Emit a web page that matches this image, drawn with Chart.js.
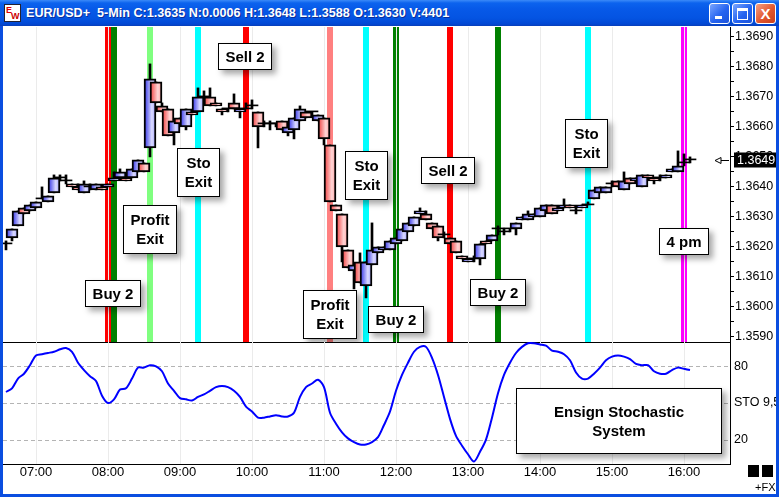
<!DOCTYPE html>
<html>
<head>
<meta charset="utf-8">
<title>EUR/USD+ 5-Min</title>
<script src="https://cdn.jsdelivr.net/npm/chart.js@4.4.1/dist/chart.umd.min.js"></script>
<style>
  html, body { margin: 0; padding: 0; background: #fff; overflow: hidden; }
  #win { position: absolute; left: 0; top: 0; width: 779px; height: 497px; background: #0a4ee0; overflow: hidden; }
  #titlebar { position: absolute; left: 0; top: 0; width: 779px; height: 26px;
    background: linear-gradient(#3b8af8 0px, #0c63ee 3px, #0759e8 9px, #0454e2 18px, #0248d4 24px, #0a3fb8 26px); }
  #caption { position: absolute; left: 26px; top: 6px; color: #fff; white-space: nowrap;
    font: bold 12.6px Arial, "Liberation Sans", sans-serif; text-shadow: 1px 1px 0 #0a2e9a; }
  #icon { position: absolute; left: 4px; top: 4px; width: 15px; height: 16px; background: #fff; border: 1px solid #223;
    font: bold 9px Arial, sans-serif; color: #d00; }
  #icon span { position: absolute; }
  .btn { position: absolute; top: 3px; width: 19px; height: 19px; border: 1px solid #fff; border-radius: 3px;
    background: linear-gradient(135deg, #7aa6ff, #2563f0 55%, #1b52da); }
  .btn.close { background: linear-gradient(135deg, #f4a184, #e2562e 55%, #c8401c); }
  #client { position: absolute; left: 3px; top: 26px; width: 773px; height: 468px; background: #fff; }
  canvas { position: absolute; left: 3px; }
  #priceChart { top: 26px; }
  #stoChart { top: 342px; }
  .sq { position: absolute; top: 465px; width: 11px; height: 12px; background: #000; }
  #fx { position: absolute; left: 755px; top: 481px; font: 11px Arial, "Liberation Sans", sans-serif; color: #000; }
</style>
</head>
<body>
<div id="win">
  <div id="titlebar">
    <div id="icon"><span style="left:1px;top:0px">E</span><span style="left:6px;top:6px;color:#c00">W</span></div>
    <div id="caption">EUR/USD+&nbsp; 5-Min C:1.3635 N:0.0006 H:1.3648 L:1.3588 O:1.3630 V:4401</div>
    <div class="btn" style="left:709px"><div style="position:absolute;left:5px;top:12px;width:7px;height:3px;background:#fff"></div></div>
    <div class="btn" style="left:732px"><div style="position:absolute;left:4px;top:4px;width:9px;height:8px;border:1px solid #fff;border-top-width:3px"></div></div>
    <div class="btn close" style="left:755px"><div style="position:absolute;left:0;top:0;width:19px;height:19px;color:#fff;font:bold 15px Arial,sans-serif;text-align:center;line-height:19px">X</div></div>
  </div>
  <div id="client"></div>
  <canvas id="priceChart" width="773" height="317"></canvas>
  <canvas id="stoChart" width="773" height="152"></canvas>
  <div class="sq" style="left:748px"></div>
  <div class="sq" style="left:762px"></div>
  <div id="fx">+FX</div>
</div>
<script>
// 5 minute bars, EUR/USD
const times = [
  '06:35','06:40','06:45','06:50','06:55',
  '07:00','07:05','07:10','07:15','07:20','07:25','07:30','07:35','07:40','07:45','07:50','07:55',
  '08:00','08:05','08:10','08:15','08:20','08:25','08:30','08:35','08:40','08:45','08:50','08:55',
  '09:00','09:05','09:10','09:15','09:20','09:25','09:30','09:35','09:40','09:45','09:50','09:55',
  '10:00','10:05','10:10','10:15','10:20','10:25','10:30','10:35','10:40','10:45','10:50','10:55',
  '11:00','11:05','11:10','11:15','11:20','11:25','11:30','11:35','11:40','11:45','11:50','11:55',
  '12:00','12:05','12:10','12:15','12:20','12:25','12:30','12:35','12:40','12:45','12:50','12:55',
  '13:00','13:05','13:10','13:15','13:20','13:25','13:30','13:35','13:40','13:45','13:50','13:55',
  '14:00','14:05','14:10','14:15','14:20','14:25','14:30','14:35','14:40','14:45','14:50','14:55',
  '15:00','15:05','15:10','15:15','15:20','15:25','15:30','15:35','15:40','15:45','15:50','15:55',
  '16:00','16:05'
];
const opens = [
  1.3621,1.3623,1.3627,1.3633,1.3632,
  1.3633,1.3636,1.3635,1.3638,1.3643,1.3642,1.3641,1.3640,1.3638,1.3640,1.3639,1.3640,
  1.3640,1.3642,1.3643,1.3643,1.3643,1.3645,1.3648,1.3653,1.3675,1.3667,1.3666,1.3658,
  1.3663,1.3660,1.3665,1.3665,1.3670,1.3670,1.3668,1.3666,1.3666,1.3668,1.3665,1.3666,
  1.3667,1.3665,1.3661,1.3661,1.3661,1.3662,1.3658,1.3659,1.3662,1.3665,1.3665,1.3662,
  1.3663,1.3654,1.3634,1.3631,1.3619,1.3612,1.3615,1.3607,1.3614,1.3618,1.3619,1.3619,
  1.3621,1.3622,1.3625,1.3627,1.3631,1.3631,1.3628,1.3627,1.3624,1.3623,1.3622,1.3617,
  1.3615,1.3616,1.3616,1.3622,1.3622,1.3626,1.3625,1.3626,1.3626,1.3629,1.3629,1.3630,
  1.3630,1.3632,1.3634,1.3632,1.3633,1.3634,1.3632,1.3633,1.3634,1.3636,1.3638,1.3638,
  1.3641,1.3642,1.3639,1.3643,1.3642,1.3640,1.3644,1.3643,1.3643,1.3643,1.3645,1.3645,
  1.3648,1.3649
];
const highs = [
  1.3622,1.3626,1.3632,1.3633,1.3634,
  1.3635,1.3640,1.3637,1.3644,1.3644,1.3644,1.3641,1.3641,1.3642,1.3641,1.3641,1.3640,
  1.3641,1.3645,1.3646,1.3644,1.3646,1.3649,1.3648,1.3681,1.3675,1.3668,1.3666,1.3662,
  1.3663,1.3666,1.3665,1.3673,1.3672,1.3673,1.3668,1.3666,1.3666,1.3671,1.3666,1.3668,
  1.3669,1.3665,1.3662,1.3662,1.3661,1.3662,1.3660,1.3663,1.3667,1.3665,1.3665,1.3664,
  1.3663,1.3654,1.3634,1.3631,1.3619,1.3614,1.3618,1.3615,1.3628,1.3620,1.3620,1.3622,
  1.3623,1.3626,1.3628,1.3630,1.3633,1.3632,1.3628,1.3627,1.3625,1.3623,1.3622,1.3617,
  1.3616,1.3617,1.3621,1.3622,1.3624,1.3627,1.3626,1.3626,1.3628,1.3630,1.3632,1.3631,
  1.3633,1.3634,1.3634,1.3633,1.3636,1.3634,1.3633,1.3634,1.3635,1.3639,1.3640,1.3640,
  1.3642,1.3642,1.3645,1.3643,1.3643,1.3644,1.3644,1.3643,1.3644,1.3644,1.3646,1.3652,
  1.3651,1.3650
];
const lows = [
  1.3619,1.3622,1.3627,1.3631,1.3632,
  1.3633,1.3636,1.3635,1.3638,1.3642,1.3641,1.3640,1.3639,1.3638,1.3639,1.3639,1.3639,
  1.3640,1.3642,1.3643,1.3642,1.3643,1.3645,1.3645,1.3650,1.3668,1.3665,1.3657,1.3654,
  1.3661,1.3659,1.3664,1.3665,1.3669,1.3667,1.3667,1.3664,1.3665,1.3666,1.3663,1.3666,
  1.3666,1.3653,1.3660,1.3659,1.3660,1.3659,1.3657,1.3656,1.3662,1.3663,1.3664,1.3662,
  1.3654,1.3635,1.3632,1.3615,1.3613,1.3606,1.3608,1.3603,1.3614,1.3618,1.3619,1.3619,
  1.3621,1.3622,1.3625,1.3627,1.3631,1.3629,1.3626,1.3622,1.3623,1.3621,1.3618,1.3616,
  1.3615,1.3615,1.3614,1.3621,1.3622,1.3624,1.3624,1.3625,1.3624,1.3629,1.3629,1.3630,
  1.3630,1.3632,1.3631,1.3632,1.3633,1.3633,1.3631,1.3633,1.3634,1.3636,1.3638,1.3638,
  1.3640,1.3640,1.3639,1.3641,1.3642,1.3640,1.3643,1.3641,1.3642,1.3643,1.3645,1.3645,
  1.3647,1.3648
];
const closes = [
  1.3621,1.3626,1.3632,1.3631,1.3634,
  1.3635,1.3636,1.3637,1.3643,1.3643,1.3642,1.3640,1.3639,1.3641,1.3640,1.3641,1.3639,
  1.3641,1.3643,1.3645,1.3642,1.3646,1.3649,1.3645,1.3676,1.3668,1.3665,1.3657,1.3662,
  1.3661,1.3666,1.3664,1.3670,1.3670,1.3667,1.3667,1.3665,1.3666,1.3666,1.3666,1.3666,
  1.3667,1.3660,1.3661,1.3661,1.3661,1.3659,1.3660,1.3663,1.3666,1.3663,1.3665,1.3664,
  1.3656,1.3635,1.3632,1.3620,1.3613,1.3614,1.3608,1.3615,1.3619,1.3620,1.3620,1.3622,
  1.3623,1.3626,1.3628,1.3630,1.3632,1.3629,1.3626,1.3623,1.3624,1.3621,1.3618,1.3616,
  1.3616,1.3616,1.3621,1.3621,1.3624,1.3626,1.3625,1.3626,1.3628,1.3630,1.3631,1.3631,
  1.3633,1.3634,1.3631,1.3633,1.3634,1.3633,1.3632,1.3634,1.3634,1.3639,1.3640,1.3640,
  1.3641,1.3640,1.3642,1.3641,1.3643,1.3644,1.3643,1.3642,1.3643,1.3644,1.3646,1.3647,
  1.3648,1.3649
];
// stochastic %K
const stoch = [
  59,62,70,74,81,
  89,90,91,92,94,95,92,83,77,72,68,56,
  50,53,61,62,70,79,79,81,80,76,66,60,
  54,53,52,55,57,60,63,64,63,60,55,47,
  43,38,38,39,40,39,39,42,55,63,66,69,
  63,42,33,26,21,18,16,16,18,22,32,43,
  60,73,83,92,96,96,87,73,55,37,23,15,
  8,2,10,20,38,58,73,83,91,96,99,99,
  98,97,93,92,90,85,75,70,70,74,79,85,
  88,89,88,86,82,81,81,76,74,74,77,79,
  78,77
];
const hourTicks = ['07:00','08:00','09:00','10:00','11:00','12:00','13:00','14:00','15:00','16:00'];
const priceTicks = [1.3590,1.3595,1.3600,1.3605,1.3610,1.3615,1.3620,1.3625,1.3630,1.3635,1.3640,
                    1.3645,1.3650,1.3655,1.3660,1.3665,1.3670,1.3675,1.3680,1.3685,1.3690];
const stoLevels = [20, 50, 80];
const stoLabels = ['20', 'STO 9,5', '80'];

// system signals (vertical bars)
const signalTimes  = ['08:00','08:05','08:35','09:15','09:55','11:05','11:35','12:00','12:45','13:25','14:40','16:00'];
const signalColors = ['#ff0000','#008000','#80ff80','#00ffff','#ff0000','#ff8080','#00ffff','#008000','#ff0000','#008000','#00ffff','#ff00ff'];

// text notes on the price panel
const noteTexts  = ['Buy 2','Sell 2','Sto\nExit','Profit\nExit','Sto\nExit','Sell 2','Profit\nExit','Buy 2','Buy 2','Sto\nExit','4 pm'];
const noteTimes  = ['08:04','09:54','09:15','08:35','11:35','12:43','11:05','12:00','13:25','14:39','16:00'];
const notePrices = [1.3609, 1.3688, 1.3653, 1.3634, 1.3652, 1.3650, 1.36057, 1.36003, 1.36093, 1.36627, 1.36263];
const titleNote = 'Ensign Stochastic\nSystem';
const titleNoteAt = ['15:06', 62.3];

const toMin = s => +s.slice(0, 2) * 60 + +s.slice(3);
const mins = times.map(toMin);
const X_MIN = 392.5, X_MAX = 998.33;

Chart.defaults.font.family = 'Arial, "Liberation Sans", sans-serif';
Chart.defaults.color = '#000';

function bodyFill(c) {
  const i = c.dataIndex;
  if (c.type !== 'data' || !c.chart.scales.x) return '#8080ff';
  if (opens[i] === closes[i]) return '#000';
  const px = c.chart.scales.x.getPixelForValue(mins[i]);
  const g = c.chart.ctx.createLinearGradient(px - 6, 0, px + 6, 0);
  if (closes[i] > opens[i]) {
    g.addColorStop(0, '#2a2ae6'); g.addColorStop(0.65, '#dcdcff'); g.addColorStop(1, '#9c9cff');
  } else {
    g.addColorStop(0, '#f03a3a'); g.addColorStop(0.65, '#ffd6d6'); g.addColorStop(1, '#ff9c9c');
  }
  return g;
}

function drawNote(ctx, text, cx, top, w, h, step) {
  const lines = text.split('\n');
  ctx.save();
  ctx.font = 'bold 15px Arial, "Liberation Sans", sans-serif';
  if (!w) w = Math.round(Math.max(...lines.map(l => ctx.measureText(l).width)) + 15);
  if (!h) h = lines.length === 1 ? 27 : 49;
  step = step || 19.5;
  const left = Math.round(cx - w / 2), t = Math.round(top);
  ctx.shadowColor = 'rgba(0,0,0,0.35)';
  ctx.shadowBlur = 6; ctx.shadowOffsetX = 4; ctx.shadowOffsetY = 4;
  ctx.fillStyle = '#fff';
  ctx.fillRect(left, t, w, h);
  ctx.shadowColor = 'transparent';
  ctx.strokeStyle = '#000'; ctx.lineWidth = 1;
  ctx.strokeRect(left + 0.5, t + 0.5, w - 1, h - 1);
  ctx.fillStyle = '#000'; ctx.textAlign = 'center'; ctx.textBaseline = 'middle';
  const first = t + h / 2 - (lines.length - 1) * step / 2 + 1;
  lines.forEach((l, k) => ctx.fillText(l, left + w / 2, first + k * step));
  ctx.restore();
}

const fixWidth = w => s => { s.width = w; s.paddingTop = 0; s.paddingBottom = 0; };
const fixHeight = h => s => { s.height = h; s.paddingLeft = 0; s.paddingRight = 0; };

const signalPlugin = {
  id: 'signals',
  beforeDraw(chart) {
    const { ctx, chartArea: a, scales: { x } } = chart;
    ctx.save();
    signalTimes.forEach((s, i) => {
      const px = Math.round(x.getPixelForValue(toMin(s)));
      ctx.fillStyle = signalColors[i];
      ctx.fillRect(px - 3, a.top, 6, a.bottom - a.top);
    });
    ctx.restore();
  },
  afterDatasetsDraw(chart) {
    const { ctx, scales: { x, y } } = chart;
    noteTexts.forEach((t, i) => {
      drawNote(ctx, t, x.getPixelForValue(toMin(noteTimes[i])), y.getPixelForValue(notePrices[i]));
    });
  },
  afterDraw(chart) {
    const { ctx, chartArea: a, scales: { y } } = chart;
    const last = closes[closes.length - 1];
    const py = Math.round(y.getPixelForValue(last)) + 0.5;
    ctx.save();
    ctx.strokeStyle = '#000'; ctx.lineWidth = 1;
    ctx.beginPath();
    ctx.moveTo(a.right - 15, py); ctx.lineTo(a.right - 9, py - 3); ctx.lineTo(a.right - 9, py + 3); ctx.closePath();
    ctx.moveTo(a.right - 9, py); ctx.lineTo(a.right - 1, py);
    ctx.stroke();
    ctx.fillStyle = '#000';
    ctx.fillRect(a.right + 4, py - 8, chart.width - a.right - 4, 15);
    ctx.fillStyle = '#fff';
    ctx.font = '12.5px Arial, "Liberation Sans", sans-serif';
    ctx.textBaseline = 'middle';
    ctx.fillText(last.toFixed(4), a.right + 7, py);
    ctx.restore();
  }
};

new Chart(document.getElementById('priceChart'), {
  type: 'bar',
  data: {
    datasets: [
      {
        label: 'body',
        data: mins.map((t, i) => ({ x: t, y: [opens[i], closes[i]] })),
        backgroundColor: bodyFill,
        borderColor: '#000',
        borderWidth: c => (opens[c.dataIndex] === closes[c.dataIndex] ? 0 : 2),
        borderSkipped: false,
        barThickness: 12,
        minBarLength: 1,
        grouped: false,
        order: 0
      },
      {
        label: 'range',
        data: mins.map((t, i) => ({ x: t, y: [lows[i], highs[i]] })),
        backgroundColor: '#000',
        borderWidth: 0,
        barThickness: 2,
        minBarLength: 1,
        grouped: false,
        order: 1
      }
    ]
  },
  options: {
    responsive: false,
    animation: false,
    events: [],
    devicePixelRatio: 1,
    layout: { padding: { top: 1, bottom: 1, left: 0, right: 0 } },
    plugins: { legend: { display: false }, tooltip: { enabled: false } },
    scales: {
      x: {
        type: 'linear', min: X_MIN, max: X_MAX, offset: false,
        afterBuildTicks: s => { s.ticks = hourTicks.map(h => ({ value: toMin(h) })); },
        ticks: { display: false },
        grid: { color: '#ebebeb', drawTicks: false, offset: false },
        border: { display: true, color: '#000' },
        afterFit: fixHeight(0)
      },
      y: {
        position: 'right', min: 1.35883, max: 1.36933,
        afterBuildTicks: s => { s.ticks = priceTicks.map(v => ({ value: v })); },
        ticks: {
          autoSkip: false, padding: 1, font: { size: 12.5 },
          callback: (v, i) => (i % 2 === 0 ? v.toFixed(4) : '')
        },
        grid: { drawOnChartArea: false, drawTicks: true, tickLength: 4, color: '#000' },
        border: { color: '#000' },
        afterFit: fixWidth(46)
      }
    }
  },
  plugins: [signalPlugin]
});

const stoPlugin = {
  id: 'stoLevels',
  beforeDatasetsDraw(chart) {
    const { ctx, chartArea: a, scales: { y } } = chart;
    ctx.save();
    ctx.strokeStyle = '#b4b4b4'; ctx.lineWidth = 1; ctx.setLineDash([4, 3]);
    stoLevels.forEach(v => {
      const py = Math.round(y.getPixelForValue(v)) + 0.5;
      ctx.beginPath(); ctx.moveTo(a.left, py); ctx.lineTo(a.right, py); ctx.stroke();
    });
    ctx.restore();
  },
  afterDatasetsDraw(chart) {
    const { ctx, scales: { x, y } } = chart;
    drawNote(ctx, titleNote, x.getPixelForValue(toMin(titleNoteAt[0])), y.getPixelForValue(titleNoteAt[1]), 206, 66, 19);
  }
};

new Chart(document.getElementById('stoChart'), {
  type: 'line',
  data: {
    datasets: [{
      label: 'STO 9,5',
      data: mins.map((t, i) => ({ x: t, y: stoch[i] })),
      borderColor: '#0000ff',
      borderWidth: 2,
      pointRadius: 0,
      tension: 0.3,
      fill: false
    }]
  },
  options: {
    responsive: false,
    animation: false,
    events: [],
    devicePixelRatio: 1,
    layout: { padding: 0 },
    plugins: { legend: { display: false }, tooltip: { enabled: false } },
    scales: {
      x: {
        type: 'linear', min: X_MIN, max: X_MAX, offset: false,
        afterBuildTicks: s => { s.ticks = hourTicks.map(h => ({ value: toMin(h) })); },
        ticks: { autoSkip: false, maxRotation: 0, padding: 1, font: { size: 13 }, callback: (v, i) => hourTicks[i] },
        grid: { color: '#ebebeb', drawTicks: false },
        border: { color: '#000' },
        afterFit: fixHeight(30)
      },
      y: {
        position: 'right', min: 0, max: 100,
        afterBuildTicks: s => { s.ticks = stoLevels.map(v => ({ value: v })); },
        ticks: { autoSkip: false, padding: 4, font: { size: 12.5 }, callback: (v, i) => stoLabels[i] },
        grid: { display: false, drawTicks: false },
        border: { color: '#000' },
        afterFit: fixWidth(46)
      }
    }
  },
  plugins: [stoPlugin]
});
</script>
</body>
</html>
